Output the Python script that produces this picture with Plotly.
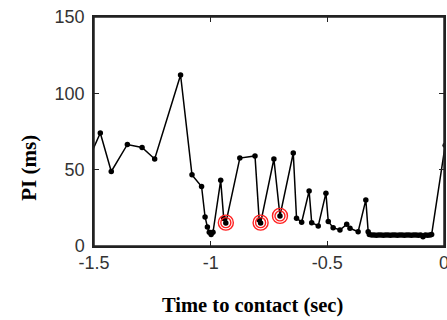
import plotly.graph_objects as go

# Time to contact (sec) and PI (ms)
t = [-1.52, -1.473, -1.426, -1.357, -1.294, -1.240, -1.129, -1.080, -1.039,
     -1.024, -1.014, -1.006, -0.998, -0.990, -0.957, -0.944, -0.935,
     -0.875, -0.810, -0.792, -0.786, -0.729, -0.703, -0.646, -0.632, -0.610,
     -0.578, -0.567, -0.539, -0.506, -0.496, -0.475, -0.446, -0.417, -0.403,
     -0.368, -0.335, -0.325,
     -0.32, -0.31, -0.30, -0.29, -0.28, -0.27, -0.26, -0.25, -0.24, -0.23,
     -0.22, -0.21, -0.20, -0.19, -0.18, -0.17, -0.16, -0.15, -0.14, -0.13,
     -0.12, -0.11, -0.10, -0.09, -0.08, -0.07, -0.06, -0.053, 0.005]
pi_ms = [58, 74, 48.8, 66.5, 64.5, 57, 112, 46.6, 39,
         19, 12.5, 9, 7.5, 9, 43, 18, 15,
         57.6, 59, 17, 15, 57, 19.7, 60.9, 18.2, 15.6,
         36, 15.3, 13.1, 34.6, 16, 12, 10.5, 14.2, 11.6,
         9.4, 30.2, 9.4,
         7.5, 7.2, 7.2, 7.0, 7.2, 7.2, 7.0, 7.2, 7.2, 7.0,
         7.2, 7.2, 7.0, 7.2, 7.2, 7.0, 7.2, 7.2, 7.0, 7.2,
         7.2, 7.0, 7.2, 6.0, 7.2, 7.0, 7.2, 7.5, 66]

# Highlighted (circled) events
circ_t = [-0.935, -0.786, -0.703]
circ_pi = [15.3, 15.3, 19.7]

x_ticks = [-1.5, -1, -0.5, 0]
x_labels = ["-1.5", "-1", "-0.5", "0"]
y_ticks = [0, 50, 100, 150]
y_labels = ["0", "50", "100", "150"]

fig = go.Figure()
fig.add_trace(go.Scatter(
    x=t, y=pi_ms, mode="lines+markers",
    line=dict(color="black", width=1.5),
    marker=dict(color="black", size=5.5),
    showlegend=False))
fig.add_trace(go.Scatter(
    x=circ_t, y=circ_pi, mode="markers",
    marker=dict(symbol="circle-open", color="#ff2020", size=15,
                line=dict(width=1.4, color="#ff2020")),
    showlegend=False))
fig.add_trace(go.Scatter(
    x=circ_t, y=circ_pi, mode="markers",
    marker=dict(symbol="circle-open", color="#ff2020", size=10,
                line=dict(width=1.4, color="#ff2020")),
    showlegend=False))

axis_common = dict(
    showline=True, linecolor="#222", linewidth=1.5, mirror="allticks",
    ticks="inside", ticklen=5, tickcolor="#222", tickwidth=1,
    showgrid=False, zeroline=False, automargin=False,
    ticklabeloverflow="allow",
    tickfont=dict(family="Liberation Sans, Arial", size=18, color="#333"),
)
fig.update_xaxes(range=[-1.5, 0], tickvals=x_ticks, ticktext=x_labels,
                 ticklabelstandoff=0, **axis_common)
fig.update_yaxes(range=[0, 150], tickvals=y_ticks, ticktext=y_labels,
                 ticklabelstandoff=4, **axis_common)

# plot frame (box)
fig.add_shape(type="rect", xref="paper", yref="paper", x0=0, x1=1, y0=0, y1=1,
              line=dict(color="#222", width=1.5), layer="above")

fig.add_annotation(text="<b>Time to contact (sec)</b>", xref="paper", yref="paper",
                   x=0.454, y=-0.262, xanchor="center", yanchor="middle", showarrow=False,
                   font=dict(family="Liberation Serif, Times New Roman", size=20.5, color="black"))
fig.add_annotation(text="<b>PI (ms)</b>", xref="paper", yref="paper",
                   x=-0.185, y=0.343, xanchor="center", yanchor="middle",
                   textangle=-90, showarrow=False,
                   font=dict(family="Liberation Serif, Times New Roman", size=21, color="black"))

fig.update_layout(
    width=447, height=320,
    margin=dict(l=94, r=3, t=17, b=74),
    paper_bgcolor="white", plot_bgcolor="white",
)
fig.write_html("out.html", config={"displayModeBar": False},
               post_script="document.body.style.margin='0';")
